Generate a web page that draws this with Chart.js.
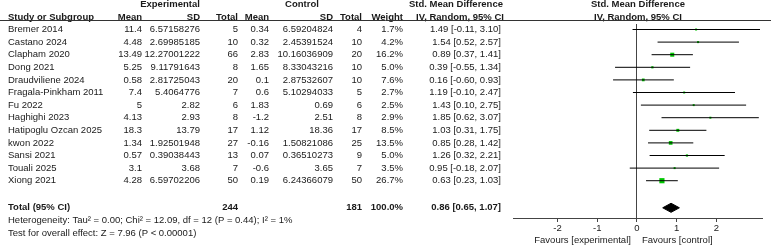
<!DOCTYPE html>
<html><head><meta charset="utf-8">
<script src="https://cdn.jsdelivr.net/npm/chart.js@4"></script>
<style>html,body{margin:0;padding:0;background:#fff;overflow:hidden}</style>
</head><body>
<canvas id="c" width="771" height="245"></canvas>
<script>
// ---------- data ----------
const studies = ['Bremer 2014','Castano 2024','Clapham 2020','Dong 2021','Draudviliene 2024','Fragala-Pinkham 2011','Fu 2022','Haghighi 2023','Hatipoglu Ozcan 2025','kwon 2022','Sansi 2021','Touali 2025','Xiong 2021'];
const expMean = [11.4, 4.48, 13.49, 5.25, 0.58, 7.4, 5, 4.13, 18.3, 1.34, 0.57, 3.1, 4.28];
const expSD = [6.57158276, 2.69985185, 12.27001222, 9.11791643, 2.81725043, 5.4064776, 2.82, 2.93, 13.79, 1.92501948, 0.39038443, 3.68, 6.59702206];
const expN = [5, 10, 66, 8, 20, 7, 6, 8, 17, 27, 13, 7, 50];
const ctrlMean = [0.34, 0.32, 2.83, 1.65, 0.1, 0.6, 1.83, -1.2, 1.12, -0.16, 0.07, -0.6, 0.19];
const ctrlSD = [6.59204824, 2.45391524, 10.16036909, 8.33043216, 2.87532607, 5.10294033, 0.69, 2.51, 18.36, 1.50821086, 0.36510273, 3.65, 6.24366079];
const ctrlN = [4, 10, 20, 10, 10, 5, 6, 8, 17, 25, 9, 7, 50];
const weights = [1.7, 4.2, 16.2, 5.0, 7.6, 2.7, 2.5, 2.9, 8.5, 13.5, 5.0, 3.5, 26.7];
const smd = [1.49, 1.54, 0.89, 0.39, 0.16, 1.19, 1.43, 1.85, 1.03, 0.85, 1.26, 0.95, 0.63];
const ciLow = [-0.11, 0.52, 0.37, -0.55, -0.60, -0.10, 0.10, 0.62, 0.31, 0.28, 0.32, -0.18, 0.23];
const ciHigh = [3.10, 2.57, 1.41, 1.34, 0.93, 2.47, 2.75, 3.07, 1.75, 1.42, 2.21, 2.07, 1.03];
const totalExpN = 244;
const totalCtrlN = 181;
const totalWeight = 100.0;
const totalSmd = 0.86, totalLow = 0.65, totalHigh = 1.07;
const heterogeneityText = 'Heterogeneity: Tau\u00B2 = 0.00; Chi\u00B2 = 12.09, df = 12 (P = 0.44); I\u00B2 = 1%';
const overallText = 'Test for overall effect: Z = 7.96 (P < 0.00001)';
const axisTicks = [-2, -1, 0, 1, 2];
const favoursLeft = 'Favours [experimental]';
const favoursRight = 'Favours [control]';

// ---------- style / layout ----------
const FAMILY = '"Liberation Sans", Arial, Helvetica, sans-serif';
const FS = 9.5;
const TEXT = '#1a1a1a';
const AXIS = '#444';
const GREEN = '#00c800';
const COL = {name: 8, expMean: 142, expSD: 200, expN: 238, ctrlMean: 269, ctrlSD: 333, ctrlN: 362, weight: 403, ci: 501};
const totalRow = studies.length + 1.15;

const fmt2 = v => v.toFixed(2);
const ciText = (m, l, h) => `${fmt2(m)} [${fmt2(l)}, ${fmt2(h)}]`;

const ciDatasets = studies.map((s, i) => ({
  label: s,
  data: [{x: ciLow[i], y: i}, {x: ciHigh[i], y: i}],
  showLine: true, borderColor: '#000', borderWidth: 1, pointRadius: 0, pointHoverRadius: 0
}));

const squareDataset = {
  label: 'SMD',
  data: studies.map((s, i) => ({x: smd[i], y: i})),
  showLine: false,
  pointStyle: 'rect',
  pointRadius: weights.map(w => Math.max(2, Math.sqrt(w)) / Math.SQRT2),
  pointBackgroundColor: GREEN,
  pointBorderWidth: 0,
  pointBorderColor: GREEN
};

const diamondHalf = 0.36;
const diamondDataset = {
  label: 'Total',
  data: [
    {x: totalLow, y: totalRow},
    {x: totalSmd, y: totalRow - diamondHalf},
    {x: totalHigh, y: totalRow},
    {x: totalSmd, y: totalRow + diamondHalf},
    {x: totalLow, y: totalRow}
  ],
  showLine: true, fill: 'shape', backgroundColor: '#000', borderColor: '#000',
  borderWidth: 1, pointRadius: 0, tension: 0
};

const tablePlugin = {
  id: 'table',
  afterDraw(chart) {
    const ctx = chart.ctx;
    const ys = chart.scales.y, xs = chart.scales.x;
    const Y = r => ys.getPixelForValue(r);
    const txt = (s, x, r, align, bold) => {
      ctx.font = (bold ? 'bold ' : '') + FS + 'px ' + FAMILY;
      ctx.textAlign = align;
      ctx.fillText(s, x, typeof r === 'number' ? Y(r) : r.px);
    };
    ctx.save();
    ctx.fillStyle = TEXT;
    ctx.textBaseline = 'middle';
    // header rows
    txt('Experimental', 170, -2, 'center', true);
    txt('Control', 302, -2, 'center', true);
    txt('Std. Mean Difference', 456, -2, 'center', true);
    txt('Std. Mean Difference', 638, -2, 'center', true);
    txt('Study or Subgroup', COL.name, -1, 'left', true);
    txt('Mean', COL.expMean, -1, 'right', true);
    txt('SD', COL.expSD, -1, 'right', true);
    txt('Total', COL.expN, -1, 'right', true);
    txt('Mean', COL.ctrlMean, -1, 'right', true);
    txt('SD', COL.ctrlSD, -1, 'right', true);
    txt('Total', COL.ctrlN, -1, 'right', true);
    txt('Weight', COL.weight, -1, 'right', true);
    txt('IV, Random, 95% CI', 460, -1, 'center', true);
    txt('IV, Random, 95% CI', 638, -1, 'center', true);
    // header rule
    ctx.strokeStyle = '#333';
    ctx.lineWidth = 1;
    ctx.beginPath();
    const ruleY = Math.round((Y(-1) + Y(0)) / 2 - 3) + 0.5;
    ctx.moveTo(0, ruleY); ctx.lineTo(771, ruleY); ctx.stroke();
    // study rows
    studies.forEach((s, i) => {
      txt(s, COL.name, i, 'left');
      txt(String(expMean[i]), COL.expMean, i, 'right');
      txt(String(expSD[i]), COL.expSD, i, 'right');
      txt(String(expN[i]), COL.expN, i, 'right');
      txt(String(ctrlMean[i]), COL.ctrlMean, i, 'right');
      txt(String(ctrlSD[i]), COL.ctrlSD, i, 'right');
      txt(String(ctrlN[i]), COL.ctrlN, i, 'right');
      txt(weights[i].toFixed(1) + '%', COL.weight, i, 'right');
      txt(ciText(smd[i], ciLow[i], ciHigh[i]), COL.ci, i, 'right');
    });
    // total
    txt('Total (95% CI)', COL.name, totalRow, 'left', true);
    txt(String(totalExpN), COL.expN, totalRow, 'right', true);
    txt(String(totalCtrlN), COL.ctrlN, totalRow, 'right', true);
    txt(totalWeight.toFixed(1) + '%', COL.weight, totalRow, 'right', true);
    txt(ciText(totalSmd, totalLow, totalHigh), COL.ci, totalRow, 'right', true);
    txt(heterogeneityText, COL.name, totalRow + 1, 'left');
    txt(overallText, COL.name, totalRow + 2, 'left');
    // favours labels
    const x0 = xs.getPixelForValue(0);
    const fy = {px: 240};
    txt(favoursLeft, x0 - 6, fy, 'right');
    txt(favoursRight, x0 + 5, fy, 'left');
    ctx.restore();
  }
};

new Chart(document.getElementById('c'), {
  type: 'scatter',
  data: {datasets: [...ciDatasets, squareDataset, diamondDataset]},
  options: {
    responsive: false,
    animation: false,
    devicePixelRatio: 1,
    events: [],
    layout: {padding: {left: 513, right: 9, top: 24, bottom: 0}},
    plugins: {legend: {display: false}, tooltip: {enabled: false}},
    scales: {
      x: {
        type: 'linear', position: 'bottom', min: -3.12, max: 3.15,
        afterBuildTicks: s => { s.ticks = axisTicks.map(v => ({value: v})); },
        afterFit: s => { s.height = 27; },
        ticks: {font: {size: FS, family: FAMILY}, color: TEXT, padding: 1, maxRotation: 0, autoSkip: false, callback: v => String(v)},
        grid: {
          color: c => (c.tick && c.tick.value === 0) ? AXIS : 'rgba(0,0,0,0)',
          tickColor: AXIS, tickLength: 4, lineWidth: 1, drawOnChartArea: true
        },
        border: {display: true, color: AXIS, width: 1}
      },
      y: {type: 'linear', reverse: true, min: -0.4365, max: 14.96, display: false}
    }
  },
  plugins: [tablePlugin]
});
</script>
</body></html>
